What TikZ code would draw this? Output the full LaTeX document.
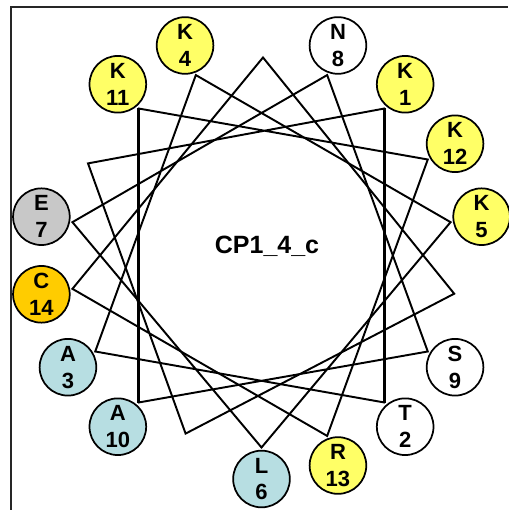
\documentclass[tikz,border=0pt]{standalone}
\usepackage{fontspec}
\setmainfont{Liberation Sans}
\definecolor{ylw}{RGB}{255,255,102}
\definecolor{gld}{RGB}{255,204,0}
\definecolor{gry}{RGB}{200,200,200}
\definecolor{lbl}{RGB}{183,222,226}
\begin{document}
\begin{tikzpicture}[x=0.75pt,y=0.75pt,
  res/.style={circle,draw=black,line width=1.3pt,minimum size=42.5pt,inner sep=0pt,
    align=center,font=\bfseries\fontsize{16.5}{20}\selectfont},
  chord/.style={line width=1.45pt,black},
  boldchord/.style={line width=2.3pt,black},
  frame/.style={line width=1.4pt,black!85}]
\useasboundingbox (0,0) rectangle (508,510);
\draw[frame] (11,0) -- (11,502.7) -- (508,502.7);
\foreach \n in {1,...,14}{
  \coordinate (p\n) at ({261.5+192*cos(50-100*(\n-1))},{254.5+192*sin(50-100*(\n-1))});
}
\coordinate (p15) at (263,452.5);
\coordinate (p16) at (454.2,216.3);
\coordinate (p17) at (185.6,76.4);
\coordinate (p18) at (88,346.6);
\draw[chord] (p2) -- (p3) -- (p4) -- (p5) -- (p6) -- (p7) -- (p8) -- (p9) -- (p10);
\draw[chord] (p11) -- (p12) -- (p13) -- (p14) -- (p15) -- (p16) -- (p17) -- (p18) -- (p1);
\draw[boldchord] (p1) -- (p2);
\draw[boldchord] (p10) -- (p11);
\foreach \n/\a/\col in {1/K/ylw,2/T/white,3/A/lbl,4/K/ylw,5/K/ylw,6/L/lbl,7/E/gry,
  8/N/white,9/S/white,10/A/lbl,11/K/ylw,12/K/ylw,13/R/ylw,14/C/gld}{
  \node[res,fill=\col] (r\n) at ({261.5+223.5*cos(50-100*(\n-1))},{254.5+223.5*sin(50-100*(\n-1))}) {\a\\\n};
}
\node[anchor=base,font=\bfseries\fontsize{18.75}{22}\selectfont,inner sep=0pt] (title) at (267,256.7) {CP1\_4\_c};
\end{tikzpicture}
\end{document}
